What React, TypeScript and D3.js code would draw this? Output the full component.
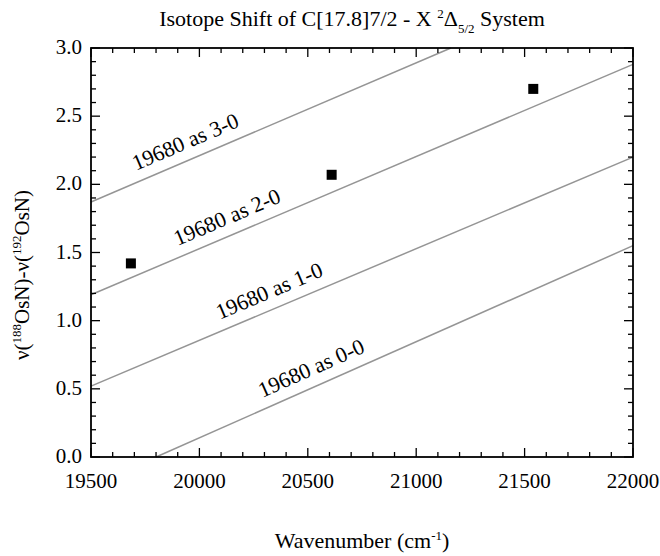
import React from "react";
import * as d3 from "d3";

const xDomain = [19500, 22000];
const yDomain = [0, 3];
const xMajorTicks = [19500, 20000, 20500, 21000, 21500, 22000];
const yMajorTicks = [0.0, 0.5, 1.0, 1.5, 2.0, 2.5, 3.0];

// measured points
const pointX = [19684, 20610, 21540];
const pointY = [1.42, 2.07, 2.70];

// model lines
const lineNames = ["19680 as 0-0", "19680 as 1-0", "19680 as 2-0", "19680 as 3-0"];
const lineStartX = [19800, 19500, 19500, 19500];
const lineStartY = [0.0, 0.52, 1.19, 1.87];
const lineEndX = [22000, 22000, 22000, 21160];
const lineEndY = [1.55, 2.20, 2.88, 3.0];
const labelX = [20550, 20355, 20160, 19968];

const W = 660;
const H = 556;
const M = { left: 91, right: 27, top: 48, bottom: 99 };
const FONT = "Liberation Serif, Times New Roman, Times, serif";

export default function App() {
  const x = d3.scaleLinear().domain(xDomain).range([M.left, W - M.right]);
  const y = d3.scaleLinear().domain(yDomain).range([H - M.bottom, M.top]);
  const xMinor = d3.range(19500, 22001, 100);
  const yMinor = d3.range(0, 3.001, 0.1);
  const x0 = x(xDomain[0]), x1 = x(xDomain[1]);
  const y0 = y(yDomain[0]), y1 = y(yDomain[1]);
  const isMajorX = (v: number) => Math.abs(v % 500) < 1e-6;
  const isMajorY = (v: number) => Math.abs(Math.round(v * 10) % 5) === 0;
  const line = d3.line<[number, number]>().x(d => x(d[0])).y(d => y(d[1]));
  const ts = { fontFamily: FONT };

  return (
    <svg width={W} height={H} style={{ position: "absolute", left: 0, top: 0, background: "#fff", fontFamily: FONT }}>
      {/* title */}
      <text x={352} y={26} textAnchor="middle" fontSize={22} style={ts}>
        Isotope Shift of C[17.8]7/2 - X <tspan dy={-8} fontSize={13}>2</tspan>
        <tspan dy={8}>Δ</tspan>
        <tspan dy={7} fontSize={13}>5/2</tspan>
        <tspan dy={-7}> System</tspan>
      </text>

      {/* model lines */}
      {lineNames.map((n, i) => (
        <path key={n} d={line([[lineStartX[i], lineStartY[i]], [lineEndX[i], lineEndY[i]]]) || ""}
          stroke="#959595" strokeWidth={1.5} fill="none" />
      ))}
      {lineNames.map((n, i) => {
        const slope = (lineEndY[i] - lineStartY[i]) / (lineEndX[i] - lineStartX[i]);
        const lx = labelX[i];
        const ly = lineStartY[i] + slope * (lx - lineStartX[i]);
        const px = x(lx), py = y(ly);
        const ang = Math.atan2(y(ly + slope * 100) - py, x(lx + 100) - px) * 180 / Math.PI;
        return (
          <text key={n + "l"} transform={`translate(${px},${py}) rotate(${ang})`} y={-11}
            textAnchor="middle" fontSize={22} style={ts}>{n}</text>
        );
      })}

      {/* points */}
      {pointX.map((v, i) => (
        <rect key={i} x={x(v) - 5} y={y(pointY[i]) - 5} width={10} height={10} fill="#000" />
      ))}

      {/* ticks */}
      {xMinor.map(v => {
        const len = isMajorX(v) ? 9 : 5;
        return (
          <g key={"xt" + v}>
            <line x1={x(v)} x2={x(v)} y1={y0} y2={y0 - len} stroke="#000" strokeWidth={1.3} />
            <line x1={x(v)} x2={x(v)} y1={y1} y2={y1 + len} stroke="#000" strokeWidth={1.3} />
          </g>
        );
      })}
      {yMinor.map(v => {
        const len = isMajorY(v) ? 9 : 5;
        return (
          <g key={"yt" + v.toFixed(1)}>
            <line x1={x0} x2={x0 + len} y1={y(v)} y2={y(v)} stroke="#000" strokeWidth={1.3} />
            <line x1={x1} x2={x1 - len} y1={y(v)} y2={y(v)} stroke="#000" strokeWidth={1.3} />
          </g>
        );
      })}

      {/* frame */}
      <rect x={x0} y={y1} width={x1 - x0} height={y0 - y1} fill="none" stroke="#000" strokeWidth={1.8} />

      {/* tick labels */}
      {xMajorTicks.map(v => (
        <text key={"xl" + v} x={x(v)} y={y0 + 31} textAnchor="middle" fontSize={21} style={ts}>{v}</text>
      ))}
      {yMajorTicks.map(v => (
        <text key={"yl" + v} x={x0 - 9} y={y(v) + 6} textAnchor="end" fontSize={21} style={ts}>{v.toFixed(1)}</text>
      ))}

      {/* axis titles */}
      <text x={(x0 + x1) / 2} y={548} textAnchor="middle" fontSize={22} style={ts}>
        Wavenumber (cm<tspan dy={-8} fontSize={13}>-1</tspan><tspan dy={8}>)</tspan>
      </text>
      <text transform={`translate(29,275) rotate(-90)`} textAnchor="middle" fontSize={21} style={ts}>
        ν(<tspan dy={-8} fontSize={13}>188</tspan><tspan dy={8}>OsN)-ν(</tspan>
        <tspan dy={-8} fontSize={13}>192</tspan><tspan dy={8}>OsN)</tspan>
      </text>
    </svg>
  );
}
